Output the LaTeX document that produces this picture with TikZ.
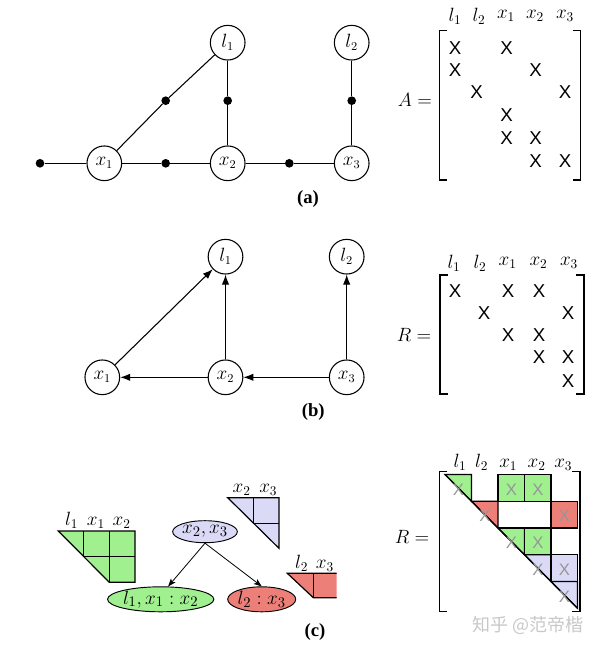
\documentclass[tikz,border=0pt]{standalone}
\usepackage{fontspec}
\newfontfamily\xfont{Liberation Sans}
\newfontfamily\capfont{Liberation Serif}
\newfontfamily\cjkfont{Noto Sans CJK SC}
\usetikzlibrary{arrows.meta,shapes.geometric}
\definecolor{cgreen}{RGB}{160,240,144}
\definecolor{cred}{RGB}{236,128,120}
\definecolor{cblue}{RGB}{218,218,246}
\definecolor{xgray}{RGB}{150,150,150}
\definecolor{wmgray}{RGB}{200,200,200}
\begin{document}
\begin{tikzpicture}[x=0.75pt,y=-0.75pt,
  vtx/.style={circle,draw,line width=0.8pt,minimum size=26pt,inner sep=0pt,font=\fontsize{13.5}{15}\selectfont},
  fac/.style={circle,fill,minimum size=6.5pt,inner sep=0pt},
  edge/.style={line width=0.8pt},
  arr/.style={line width=0.8pt,-{Latex[length=7.5pt,width=5.5pt]}},
  carr/.style={line width=0.6pt,-{Stealth[length=6pt,width=4.5pt,inset=1.5pt]}},
  hdr/.style={font=\fontsize{14}{16}\selectfont,inner sep=0pt},
  chdr/.style={hdr,anchor=south},
  xx/.style={font=\xfont\fontsize{14}{15}\selectfont,inner sep=0pt},
  gx/.style={font=\xfont\fontsize{12.5}{13}\selectfont,inner sep=0pt,text=xgray},
  eqlab/.style={font=\fontsize{14}{16}\selectfont,inner sep=0pt},
  caplab/.style={font=\capfont\bfseries\fontsize{14}{16}\selectfont,inner sep=0pt},
  brk/.style={line width=0.9pt},
  cell/.style={line width=0.9pt},
  ell/.style={ellipse,draw,line width=0.7pt,inner sep=0pt,font=\fontsize{15}{17}\selectfont},
]
\useasboundingbox (0,0) rectangle (600,648);

% ---------------- (a) factor graph ----------------
\node[vtx] (al1) at (227.7,42.7) {$l_1$};
\node[vtx] (al2) at (351.7,42.7) {$l_2$};
\node[vtx] (ax1) at (104.3,163.3) {$x_1$};
\node[vtx] (ax2) at (227.7,163.3) {$x_2$};
\node[vtx] (ax3) at (351.7,163.3) {$x_3$};
\node[fac] (f0) at (40,163.3) {};
\node[fac] (f12) at (165.7,163.3) {};
\node[fac] (f23) at (289.3,163.3) {};
\node[fac] (fl11) at (165.7,100.7) {};
\node[fac] (fl12) at (227.7,100.7) {};
\node[fac] (fl23) at (351.7,100.7) {};
\draw[edge] (f0) -- (ax1) -- (f12) -- (ax2) -- (f23) -- (ax3);
\draw[edge] (ax1) -- (fl11) -- (al1);
\draw[edge] (ax2) -- (fl12) -- (al1);
\draw[edge] (ax3) -- (fl23) -- (al2);
\node[caplab] (capa) at (308,199) {(a)};

% ---------------- matrix A ----------------
\node[eqlab] (Aeq) at (415,100) {$A=$};
\draw[brk] (447.3,30.7) -- (439.3,30.7) -- (439.3,180) -- (447.3,180);
\draw[brk] (572.7,30.7) -- (580.7,30.7) -- (580.7,180) -- (572.7,180);
\foreach \lab/\xc in {l_1/455,l_2/479,x_1/506,x_2/535,x_3/565}
  \node[hdr] (Ah-\xc) at (\xc,16) {$\lab$};
\foreach \xc/\yc in {455/48,506.7/48, 455/70,535.7/70, 476.7/92,565/92,
    506.7/115, 506.7/138,535.7/138, 535.7/161,565/161}
  \node[xx] (AX-\xc-\yc) at (\xc,\yc) {X};

% ---------------- (b) Bayes net ----------------
\node[vtx] (bl1) at (225.5,256.7) {$l_1$};
\node[vtx] (bl2) at (346.7,256.7) {$l_2$};
\node[vtx] (bx1) at (102.3,377.3) {$x_1$};
\node[vtx] (bx2) at (225.5,377.3) {$x_2$};
\node[vtx] (bx3) at (346.7,377.3) {$x_3$};
\draw[arr] (bx1) -- (bl1);
\draw[arr] (bx2) -- (bl1);
\draw[arr] (bx2) -- (bx1);
\draw[arr] (bx3) -- (bx2);
\draw[arr] (bx3) -- (bl2);
\node[caplab] (capb) at (313.3,412) {(b)};

% ---------------- matrix R (b) ----------------
\node[eqlab] (Req) at (414,335) {$R=$};
\draw[brk] (448,275) -- (440,275) -- (440,394) -- (448,394);
\draw[brk] (576,275) -- (584,275) -- (584,394) -- (576,394);
\foreach \lab/\xc in {l_1/454,l_2/480,x_1/507.7,x_2/538.5,x_3/569}
  \node[hdr] (Rh-\xc) at (\xc,263) {$\lab$};
\foreach \xc/\yc in {455/291,508/291,539/291, 484/313,568/313,
    508/335,539/335, 539/357,568/357, 568/381}
  \node[xx] (RX-\xc-\yc) at (\xc,\yc) {X};

% ---------------- (c) Bayes tree ----------------
% green clique
\fill[cgreen] (58.3,531) -- (135,531) -- (135,582.3) -- (109.3,582.3) -- cycle;
\draw[cell] (58.3,531) -- (135,531) -- (135,582.3) -- (109.3,582.3) -- cycle;
\draw[cell] (83.3,531) -- (83.3,556.7) -- (135,556.7);
\draw[cell] (109.3,531) -- (109.3,582.3);
\node[chdr] (gh1) at (71.7,529) {$l_1$};
\node[chdr] (gh2) at (96,529) {$x_1$};
\node[chdr] (gh3) at (121.7,529) {$x_2$};
% blue clique
\fill[cblue] (227.7,497.7) -- (279,497.7) -- (279,548.3) -- cycle;
\draw[cell] (227.7,497.7) -- (279,497.7) -- (279,548.3) -- cycle;
\draw[cell] (253.3,497.7) -- (253.3,523.3) -- (279,523.3);
\node[chdr] (bh1) at (241.7,495.7) {$x_2$};
\node[chdr] (bh2) at (268.3,495.7) {$x_3$};
% red clique
\fill[cred] (287.3,573.3) -- (336.7,573.3) -- (336.7,597.7) -- (313.3,597.7) -- cycle;
\draw[cell] (336.7,597.7) -- (313.3,597.7) -- (287.3,573.3) -- (336.7,573.3);
\draw[cell] (313.3,573.3) -- (313.3,597.7);
\node[chdr] (rh1) at (301.7,571.3) {$l_2$};
\node[chdr] (rh2) at (325,571.3) {$x_3$};
% tree nodes
\node[ell,fill=cblue,minimum width=43.5pt,minimum height=16.5pt] (e23) at (205,531.7) {$x_2,x_3$};
\node[ell,fill=cgreen,minimum width=76.5pt,minimum height=18.75pt] (e1) at (160.7,599.3) {$l_1,x_1:x_2$};
\node[ell,fill=cred,minimum width=50pt,minimum height=18.75pt] (e2) at (261.7,599.3) {$l_2:x_3$};
\draw[carr] (e23.south) -- (e1.60);
\draw[carr] (e23.south) -- (e2.north);
\node[caplab] (capc) at (315,632) {(c)};

% ---------------- matrix R (c) ----------------
\node[eqlab] (Req2) at (412,537) {$R=$};
\draw[brk] (447.3,471.7) -- (439.3,471.7) -- (439.3,611.7) -- (447.3,611.7);
\draw[brk] (572,471.7) -- (580,471.7) -- (580,611.7) -- (572,611.7);
\foreach \lab/\xc in {l_1/460,l_2/481.7,x_1/508.3,x_2/536.7,x_3/563.3}
  \node[chdr] (Rch-\xc) at (\xc,471) {$\lab$};
% green cells
\filldraw[cell,fill=cgreen] (445,474.5) -- (471.5,474.5) -- (471.5,501.3) -- cycle;
\filldraw[cell,fill=cgreen] (498,474.5) rectangle (524.5,501.3);
\filldraw[cell,fill=cgreen] (524.5,474.5) rectangle (551,501.3);
\filldraw[cell,fill=cgreen] (498,528) -- (524.5,528) -- (524.5,554.8) -- cycle;
\filldraw[cell,fill=cgreen] (524.5,528) rectangle (551,554.8);
% red cells
\filldraw[cell,fill=cred] (471.5,501.3) -- (498,501.3) -- (498,528) -- cycle;
\filldraw[cell,fill=cred] (551,501.3) rectangle (577.5,528);
% blue cells
\filldraw[cell,fill=cblue] (524.5,554.8) -- (551,554.8) -- (551,581.5) -- cycle;
\filldraw[cell,fill=cblue] (551,554.8) rectangle (577.5,581.5);
\filldraw[cell,fill=cblue] (551,581.5) -- (577.5,581.5) -- (577.5,608.3) -- cycle;
% white middle block outline
\draw[cell] (498,501.3) -- (551,501.3);
\draw[cell] (498,528) -- (551,528);
% diagonal
\draw[line width=1pt] (445,474.5) -- (577.5,608.3);
% gray X entries
\foreach \xc/\yc in {458.3/489.5,511.3/489.5,537.8/489.5, 484.8/516.2,564.3/516.2,
    511.3/543,537.8/543, 537.8/569.7,564.3/569.7, 564.3/596.5}
  \node[gx] (GX-\xc-\yc) at (\xc,\yc) {X};

% watermark
\node[font=\cjkfont\fontsize{13.5}{15}\selectfont,text=wmgray,inner sep=0pt] (wm) at (528,625) {知乎 @范帝楷};
\end{tikzpicture}
\end{document}
